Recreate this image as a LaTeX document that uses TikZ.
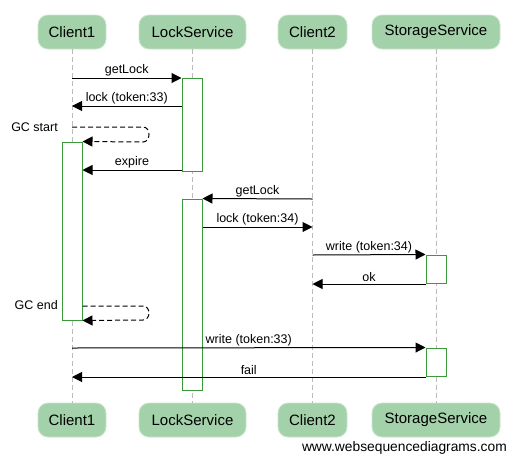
\documentclass[tikz,border=0pt]{standalone}
\usepackage{fontspec}
\setmainfont{Liberation Sans}
\usetikzlibrary{arrows.meta}
\definecolor{hdr}{HTML}{A3D1A9}
\definecolor{hdrb}{HTML}{C9E5CC}
\definecolor{lifec}{HTML}{BBBBBB}
\definecolor{actc}{HTML}{3A9A3A}
\begin{document}
\begin{tikzpicture}[x=1pt,y=-1pt,
 actor/.style={rounded corners=10pt, fill=hdr, draw=hdrb, line width=0.8pt, minimum height=34pt, inner sep=0pt, font=\fontsize{15}{18}\selectfont},
 life/.style={draw=lifec, dash pattern=on 5pt off 3pt, line width=0.8pt},
 actbox/.style={draw=actc, fill=white, line width=1pt, inner sep=0pt, minimum width=20pt},
 msg/.style={-{Triangle[length=10pt,width=10pt]}, line width=1pt},
 dmsg/.style={msg, dash pattern=on 5pt off 3pt},
 lbl/.style={font=\fontsize{12.5}{14}\selectfont, inner sep=1.5pt},
 selflbl/.style={font=\fontsize{12.5}{14}\selectfont, inner sep=0pt, anchor=east}
]
\useasboundingbox (0,0) rectangle (516,461);
% headers
\node[actor, minimum width=68pt] (c1t) at (72,32) {Client1};
\node[actor, minimum width=107pt] (lst) at (192.5,32) {LockService};
\node[actor, minimum width=69pt] (c2t) at (312.5,32) {Client2};
\node[actor, minimum width=128pt] (sst) at (436,32) {StorageService};
% footers
\node[actor, minimum width=68pt] (c1b) at (72,420) {Client1};
\node[actor, minimum width=107pt] (lsb) at (192.5,420) {LockService};
\node[actor, minimum width=69pt] (c2b) at (312.5,420) {Client2};
\node[actor, minimum width=128pt] (ssb) at (436,420) {StorageService};
% lifelines
\draw[life] (c1t.south -| 72,0) -- (c1b.north -| 72,0);
\draw[life] (lst.south -| 192,0) -- (lsb.north -| 192,0);
\draw[life] (c2t.south -| 312,0) -- (c2b.north -| 312,0);
\draw[life] (sst.south -| 436,0) -- (ssb.north -| 436,0);
% activations
\node[actbox, minimum height=93pt] (a1) at (192,124.5) {};
\node[actbox, minimum height=178pt] (ca) at (72,231) {};
\node[actbox, minimum height=191pt] (a2) at (192,294.5) {};
\node[actbox, minimum height=28pt] (a3) at (436,269) {};
\node[actbox, minimum height=28pt] (a4) at (436,362) {};
% messages
\draw[msg] (c1t |- 0,78) -- node[lbl, above] {getLock} (a1.west |- 0,78);
\draw[msg] (a1.west |- 0,106) -- node[lbl, above] {lock (token:33)} (c1t |- 0,106);
\draw[dmsg] (c1t |- 0,127) -- (143,127) .. controls (151,127) and (151,142) .. (143,142) -- (ca.north east);
\node[selflbl] (gcs) at (58,127.5) {GC start};
\draw[msg] (a1.west |- 0,170) -- node[lbl, above] {expire} (ca.east |- 0,170);
\draw[msg] (c2t |- 0,199) -- node[lbl, above] {getLock} (a2.north east);
\draw[msg] (a2.east |- 0,227) -- node[lbl, above] {lock (token:34)} (c2t |- 0,227);
\draw[msg] (c2t |- 0,255) -- node[lbl, above] {write (token:34)} (a3.north west);
\draw[msg] (a3.west |- 0,284) -- node[lbl, above] {ok} (c2t |- 0,284);
\draw[dmsg] (ca.east |- 0,306) -- (143,306) .. controls (151,306) and (151,320) .. (143,320) -- (ca.south east);
\node[selflbl] (gce) at (58,305.5) {GC end};
\draw[msg] (c1t |- 0,348) -- node[lbl, above] {write (token:33)} (a4.north west);
\draw[msg] (a4.west |- 0,377) -- node[lbl, above] {fail} (c1t |- 0,377);
% watermark
\node[anchor=base east, inner sep=0pt, font=\fontsize{13.8}{16}\selectfont] (wm) at (507,451) {www.websequencediagrams.com};
\end{tikzpicture}
\end{document}
